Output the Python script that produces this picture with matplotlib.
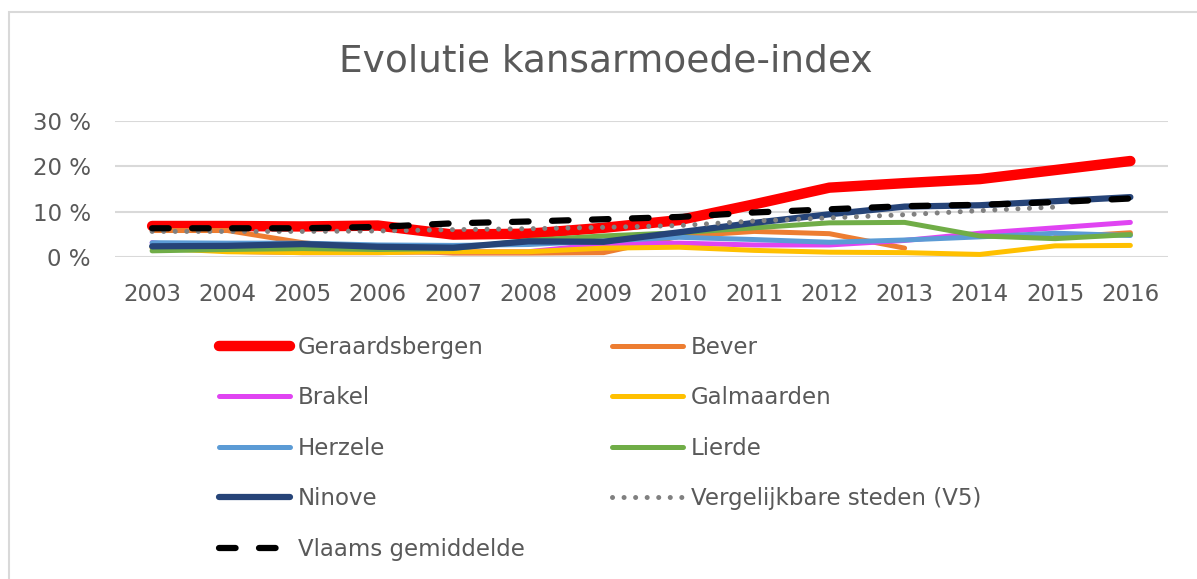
import matplotlib
matplotlib.use("Agg")
import matplotlib.pyplot as plt
import numpy as np

# Kansarmoede-index (%), 2003-2016
years = [str(y) for y in range(2003, 2017)]
geraardsbergen = [6.8, 6.8, 6.7, 6.9, 4.9, 5.1, 6.4, 8.1, 11.6, 15.3, 16.3, 17.2, 19.2, 21.2]
bever = [5.8, 5.8, 3.1, 1.5, 0.8, 0.8, 0.9, 4.5, 5.6, 5.1, 1.9, np.nan, 4.3, 5.3]
brakel = [3.1, 1.2, 0.9, 0.9, 1.1, 1.1, 2.8, 3.0, 2.6, 2.6, 3.6, 5.2, 6.4, 7.6]
galmaarden = [1.9, 1.1, 0.9, 0.9, 1.1, 1.1, 1.9, 2.1, 1.4, 1.0, 0.9, 0.5, 2.4, 2.5]
herzele = [3.1, 3.0, 3.0, 2.6, 2.5, 2.7, 3.5, 4.3, 3.8, 3.2, 3.7, 4.4, 5.2, 4.7]
lierde = [1.3, 1.6, 1.8, 1.6, 1.8, 3.6, 4.6, 5.3, 6.4, 7.5, 7.6, 4.6, 4.0, 4.9]
ninove = [2.3, 2.4, 2.8, 2.2, 2.0, 3.4, 3.3, 5.4, 7.5, 9.4, 11.1, 11.4, 12.3, 13.2]
v5 = [5.6, 5.6, 5.6, 5.7, 6.0, 6.2, 6.5, 6.9, 7.9, 8.6, 9.3, 10.2, 11.0, np.nan]
vlaams = [6.3, 6.3, 6.3, 6.6, 7.4, 7.8, 8.3, 8.8, 9.8, 10.5, 11.2, 11.5, 12.1, 12.9]

TXT = "#595959"
plt.rcParams["font.family"] = ["DejaVu Sans"]

fig = plt.figure(figsize=(11.97, 5.79), dpi=100)
ax = fig.add_axes([114.5 / 1197, 1 - 256.7 / 579, 1053.5 / 1197, 135.4 / 579])

x = np.arange(len(years))
series = [
    ("Geraardsbergen", geraardsbergen, dict(color="#FF0000", lw=7.5)),
    ("Bever", bever, dict(color="#ED7D31", lw=3.6)),
    ("Brakel", brakel, dict(color="#E044F2", lw=3.6)),
    ("Galmaarden", galmaarden, dict(color="#FFC000", lw=3.6)),
    ("Herzele", herzele, dict(color="#5B9BD5", lw=3.6)),
    ("Lierde", lierde, dict(color="#70AD47", lw=3.6)),
    ("Ninove", ninove, dict(color="#264478", lw=4.5)),
    ("Vergelijkbare steden (V5)", v5,
     dict(color="#808080", lw=3.6, ls=(0, (0.01, 2.3)), dash_capstyle="round")),
    ("Vlaams gemiddelde", vlaams,
     dict(color="black", lw=4.5, ls=(0, (2.65, 3.75)), dash_capstyle="round")),
]
handles = []
for name, vals, kw in series:
    h, = ax.plot(x, vals, label=name, solid_capstyle="round", **kw)
    handles.append(h)

ax.set_xlim(-0.5, len(years) - 0.5)
ax.set_ylim(0, 30)
ax.set_yticks([0, 10, 20, 30])
ax.set_yticklabels([f"{v} %" for v in [0, 10, 20, 30]])
ax.set_xticks(x)
ax.set_xticklabels(years)
ax.grid(axis="y", color="#D9D9D9", lw=1.5)
ax.set_axisbelow(True)
for s in ax.spines.values():
    s.set_visible(False)
ax.tick_params(length=0, labelsize=16.5, labelcolor=TXT)
ax.tick_params(axis="y", pad=17)
ax.tick_params(axis="x", pad=19)

fig.text(606 / 1197, 1 - 62 / 579, "Evolutie kansarmoede-index",
         ha="center", va="center", fontsize=27, color=TXT)

# legend rij per rij zoals in Excel: volgorde aanpassen voor 2 kolommen
order = [0, 2, 4, 6, 8, 1, 3, 5, 7]
leg = fig.legend([handles[i] for i in order], [series[i][0] for i in order],
                 ncol=2, loc="upper left", bbox_to_anchor=(198 / 1197, 1 - 315 / 579),
                 frameon=False, fontsize=16.5, handlelength=3.1, handletextpad=0.35,
                 columnspacing=3.8, labelspacing=1.2)
for t in leg.get_texts():
    t.set_color(TXT)

# kader van de grafiek
fig.patches.append(plt.Rectangle((9 / 1197, -0.1), 1.2, 1 - 12 / 579 + 0.1,
                                 transform=fig.transFigure, fill=False,
                                 edgecolor="#D9D9D9", lw=1.5))

fig.savefig("out.png", dpi=100)
